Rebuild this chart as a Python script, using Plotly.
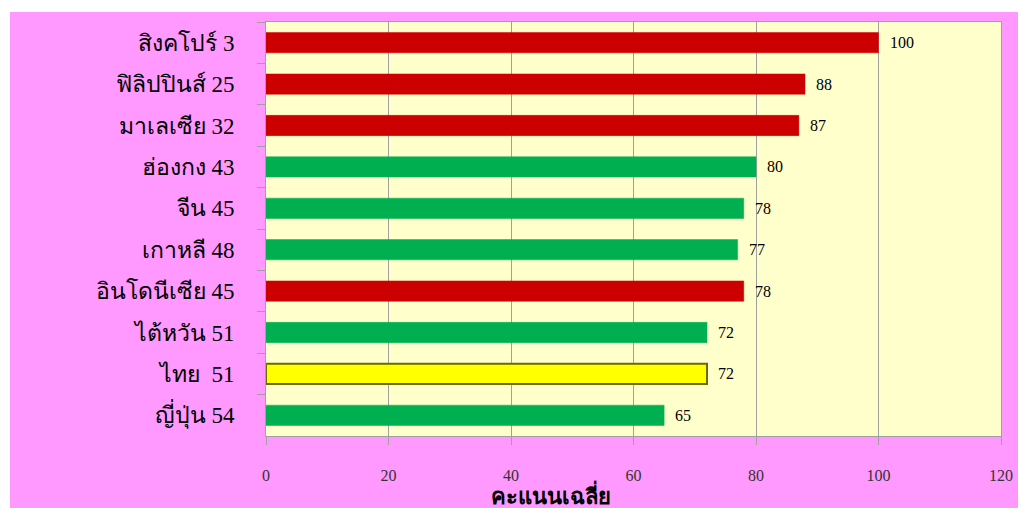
import plotly.graph_objects as go

countries = ["สิงคโปร์ 3", "ฟิลิปปินส์ 25", "มาเลเซีย 32", "ฮ่องกง 43", "จีน 45",
             "เกาหลี 48", "อินโดนีเซีย 45", "ไต้หวัน 51", "ไทย  51", "ญี่ปุ่น 54"]
scores = [100, 88, 87, 80, 78, 77, 78, 72, 72, 65]
groups = ["red", "red", "red", "green", "green", "green", "red", "green", "thai", "green"]
x_ticks = [0, 20, 40, 60, 80, 100, 120]
x_title = "คะแนนเฉลี่ย"

fill = {"red": "#CC0000", "green": "#00B050", "thai": "#FFFF00"}
edge = {"red": "#CC0000", "green": "#00B050", "thai": "#6B6B00"}
edge_w = {"red": 0.5, "green": 0.5, "thai": 2}

FONT = "Liberation Serif, DejaVu Serif, serif"

# page body has an 8px margin, so the figure is laid out in page px minus 8
W, H = 1030, 500
L, T, R, B = 258, 14, 37, 72
PW, PH = W - L - R, H - T - B

fig = go.Figure()
fig.add_trace(go.Bar(
    y=countries, x=scores, orientation="h", width=0.49,
    marker=dict(color=[fill[g] for g in groups],
                line=dict(color=[edge[g] for g in groups], width=[edge_w[g] for g in groups])),
    hoverinfo="x+y",
))

for c, v in zip(countries, scores):
    fig.add_annotation(x=v, y=c, xref="x", yref="y", text=str(v), showarrow=False,
                       xanchor="left", xshift=9,
                       font=dict(family=FONT, size=16, color="black"))

fig.add_annotation(x=(551 - 266) / PW, y=-(494 - 436) / PH, xref="paper", yref="paper",
                   text="<b>" + x_title + "</b>", showarrow=False,
                   xanchor="center", yanchor="middle",
                   font=dict(family=FONT, size=22, color="black"))

# white strips outside the pink panel
fig.add_shape(type="rect", xref="paper", yref="paper", layer="below",
              x0=-L / PW, x1=(W - L) / PW, y0=1 + (T - 4) / PH, y1=1 + T / PH + 0.01,
              fillcolor="white", line_width=0)
fig.add_shape(type="rect", xref="paper", yref="paper", layer="below",
              x0=-L / PW - 0.01, x1=-(L - 2) / PW, y0=-B / PH - 0.01, y1=1 + T / PH + 0.01,
              fillcolor="white", line_width=0)

fig.update_layout(
    width=W, height=H,
    margin=dict(l=L, r=R, t=T, b=B),
    paper_bgcolor="#FF99FF", plot_bgcolor="#FFFFCC",
    showlegend=False,
    bargap=0.5,
    font=dict(family=FONT, color="black"),
)
fig.update_xaxes(range=[0, 120], tickvals=x_ticks, showgrid=True, gridcolor="#A0A0A0", gridwidth=1,
                 showline=True, linecolor="#A0A0A0", linewidth=1, mirror=True,
                 ticks="outside", ticklen=8, tickcolor="#A0A0A0",
                 ticklabelstandoff=17,
                 tickfont=dict(family=FONT, size=16, color="#333333"), zeroline=False)
fig.update_yaxes(autorange="reversed", showline=True, linecolor="#A0A0A0", linewidth=1, mirror=True,
                 ticks="outside", ticklen=8, tickcolor="#A0A0A0", tickson="boundaries",
                 ticklabelstandoff=26,
                 tickfont=dict(family=FONT, size=23, color="black"), showgrid=False)

fig.write_html("out.html")
